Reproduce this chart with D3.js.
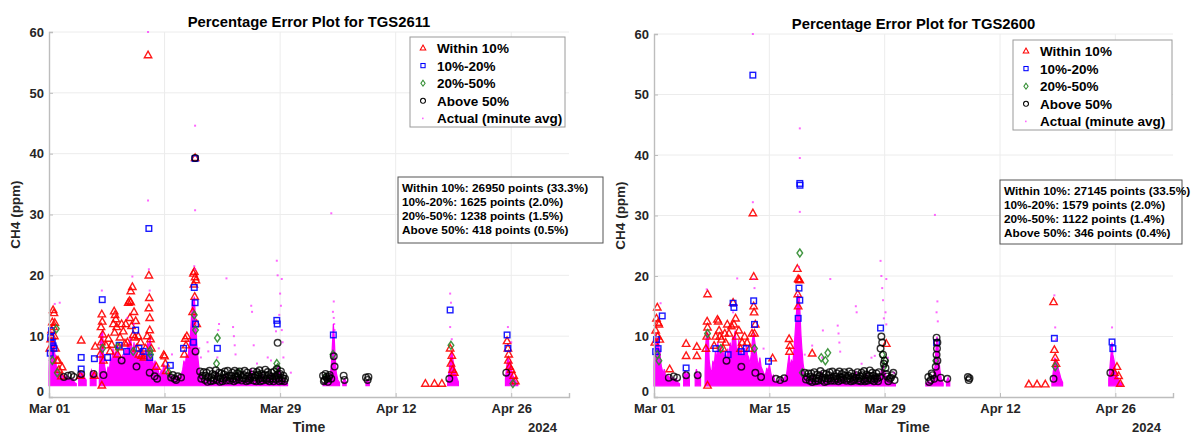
<!DOCTYPE html>
<html>
<head>
<meta charset="utf-8">
<script src="https://cdn.jsdelivr.net/npm/d3@7/dist/d3.min.js"></script>
<style>
body { margin: 0; background: #fff; }
svg text { font-family: "Liberation Sans", Arial, Helvetica, sans-serif; font-weight: bold; }
</style>
</head>
<body>
<div id="chart"></div>
<script>
// x values are days since Mar 01 2024, y values are CH4 in ppm
var yTicks = [0, 10, 20, 30, 40, 50, 60];
var xTickDays = [0, 14, 28, 42, 56];
var legendLabels = ["Within 10%", "10%-20%", "20%-50%", "Above 50%", "Actual (minute avg)"];
var stats2611 = ["Within 10%: 26950 points (33.3%)", "10%-20%: 1625 points (2.0%)", "20%-50%: 1238 points (1.5%)", "Above 50%: 418 points (0.5%)"];
var stats2600 = ["Within 10%: 27145 points (33.5%)", "10%-20%: 1579 points (2.0%)", "20%-50%: 1122 points (1.4%)", "Above 50%: 346 points (0.4%)"];

// ---- TGS2611 ----
// top of the dense cloud of minute averages (null = no data)
var actualTop2611 = [[0,4],[0.08,9],[0.16,11],[0.24,8.5],[0.32,10.5],[0.4,9],[0.48,10],[0.56,7.5],[0.64,9.5],[0.72,6],[0.8,7],[0.9,4.5],[1.0,5],[1.1,3.6],[1.25,4.2],[1.4,3.3],[1.55,3.8],[1.7,3.1],[1.85,3.6],[2.0,3.0],[2.15,3.4],[2.3,2.8],[2.5,3.2],[2.7,2.6],[2.9,3.0],[3.1,2.4],[3.3,2.2],null,
  [3.6,3.4],[3.75,4.2],[3.9,3.5],[4.1,4.0],[4.3,3.2],[4.5,2.8],null,
  [5.0,3.5],[5.15,4.4],[5.3,3.8],[5.5,4.2],[5.7,3.0],null,
  [6.1,4.0],[6.2,8],[6.3,10.5],[6.4,9],[6.5,11],[6.6,7],[6.75,5],[6.9,4],[7.0,3.5],[7.15,5],[7.3,4.2],[7.45,6.5],[7.6,5.5],[7.75,8],[7.9,6.5],[8.05,7.5],[8.2,6],[8.35,8.5],[8.5,5.5],[8.65,6.8],[8.8,5],[8.95,7],[9.1,6],[9.25,8],[9.4,7],[9.55,9],[9.7,8],[9.85,10],[10.0,8.5],[10.15,7],[10.3,9],[10.45,6],[10.6,7.5],[10.75,5.5],[10.9,7],[11.05,6],[11.2,8],[11.35,6.5],[11.5,7.5],[11.65,5],[11.8,6.5],[11.95,9],[12.1,8],[12.25,10],[12.4,7],[12.55,6],[12.7,5],[12.85,6],[13.0,4.5],[13.15,5],[13.3,4],[13.45,3.5],[13.6,4.5],[13.75,3.8],[13.9,5.5],[14.05,4.5],[14.2,3.5],[14.4,4],[14.6,3.2],[14.8,3.6],[15.0,3.0],[15.2,3.4],[15.4,3.0],[15.6,3.5],[15.8,3.1],[16.0,3.6],[16.2,4.5],[16.35,6],[16.5,5],[16.65,7],[16.8,5.5],[16.95,8],[17.1,9.5],[17.25,13],[17.4,16],[17.5,15],[17.6,16.5],[17.7,14],[17.8,12],[17.9,9],[18.0,7],[18.15,5],[18.3,4],[18.5,3.2],[18.7,2.8],[19.0,2.6],[19.3,3.5],[19.5,2.5],[20.0,2.8],[20.3,4],[20.5,2.5],[21.0,2.8],[21.4,3.6],[21.7,2.5],[22.0,3],[22.5,2.6],[23.0,3.2],[23.4,2.5],[24.0,3],[24.5,4.5],[24.8,2.6],[25.3,3],[25.8,4],[26.0,2.6],[26.5,3.2],[27.0,3.8],[27.3,2.7],[27.6,4.5],[27.8,5.5],[28.0,4],[28.3,3],[28.6,2.5],[28.9,2.2],null,
  [33.2,2.2],[33.5,2.5],[33.8,2.3],[34.0,2.8],[34.2,5],[34.35,9],[34.45,12],[34.55,10],[34.65,7],[34.8,4],[35.0,2.8],[35.2,2.4],null,
  [35.6,2.5],[35.8,3],[36.0,2.5],null,
  [38.4,2.4],[38.6,2.8],[38.8,2.4],null,
  [48.3,2.5],[48.5,4.5],[48.65,6.5],[48.8,7.5],[48.95,6],[49.1,5],[49.25,4],[49.4,3.2],[49.6,2.5],null,
  [55.3,3],[55.45,5],[55.6,6.5],[55.75,5.5],[55.9,6],[56.05,4.5],[56.2,3.5],[56.4,3],[56.6,2.5],[56.8,2.2]];
var actualDots2611 = [[12.0,60],[12.0,32.3],[17.7,44.6],[17.7,30.7],[34.2,30.2],[1.3,15.5],[0.7,15.3],[6.4,17.5],[10.1,19.8],[12.1,21],[17.6,21.5],[17.7,21],[21.5,19.5],[27.6,22.4],[27.7,20],[28.2,19.4],[28.0,17],[28.1,15],[27.9,13.5],[28.2,11],[28.3,9],[27.5,10.8],[24.5,15],[24.6,14],[22.3,11.5],[22.4,10],[22.5,8.5],[20.5,11],[20.6,12],[19.2,9],[19.3,7.5],[24.8,8.5],[26.5,6.5],[26.9,6],[34.5,15.7],[34.4,14],[34.5,13],[34.55,12],[48.6,17],[48.7,15.5],[48.6,11.5],[55.6,11.5],[56.0,9],[29.3,4],[9.5,13],[10.3,12],[13.3,8],[14.9,7],[12.2,17.5],[18.2,8],[18.4,6.5],[20.4,6.5],[22.6,7],[25.2,5.5],[28.4,6.5],[34.6,11],[48.8,9.5]];
var within2611 = [[12.0,56.2],[17.7,39.3],[12.1,20],[12.15,16.3],[12.1,14.6],[12.2,13],
  [0.5,14.3],[0.6,13.8],[0.4,12.3],[0.7,12.2],[0.3,11],[0.2,9.5],[0.8,8],[1.6,4.9],[1.5,3.4],[0.95,6],[0.1,8],[0.35,10],[0.55,11.5],[0.65,10],[1.1,6],[1.2,4.5],
  [3.9,9.3],[3.8,3.5],[5.6,8.3],[5.5,3.5],
  [6.4,13.6],[6.45,12.4],[6.3,11.5],[6.5,10.3],[6.35,9],[6.4,1.9],[6.2,7],[6.6,6],
  [7.9,14.1],[8.0,13.5],[8.1,12.8],[7.8,12],[8.2,11.5],[7.95,10.6],[8.5,8.2],[8.8,12],[9.0,10.8],[7.6,8.6],[8.3,7],[6.9,8.5],[7.2,9.6],[7.4,7.5],[8.6,9.8],[9.2,8.8],[9.3,12],
  [9.6,15.5],[9.75,15.8],[9.9,15.6],[10.1,18.1],[9.9,17.4],[10.0,11.7],[10.2,10.2],[10.4,9.8],[9.5,9],[10.6,8],[10.9,7],[11.2,6.8],[11.5,6.5],[9.8,13],[10.3,14],[10.5,12.5],[10.8,10],[11.1,9],[11.7,8],[11.9,10],
  [12.2,11],[12.3,9.5],[12.4,8],[13.0,5],[13.9,6.9],
  [14.0,6.7],[14.1,5.5],[14.2,4.3],
  [16.5,9.6],[16.6,8.5],[16.7,10],[16.4,7],
  [17.5,20.3],[17.6,20.6],[17.7,19.7],[17.8,19.2],[17.55,18.5],[17.65,16.5],[17.4,14],[17.9,12],
  [45.6,2.2],[46.7,2.2],[47.6,2.2],[48.6,8],[48.8,6.8],[48.7,5.5],[48.9,4.5],[49.1,4],
  [55.5,9.2],[55.6,8],[55.7,7],[55.65,6],[55.8,5],[56.0,4.5],[56.3,3.5],[56.5,2.6]];
var band1020_2611 = [[12.1,27.7],[17.7,39.2],[0.3,10.9],[0.2,9.8],[0.4,9],[0.5,8.4],[0.6,8],[0.15,7.2],[3.9,6.5],[3.9,4.6],[5.5,6.3],[6.45,16],[8.5,8.5],[9.4,7.5],[10.5,11],[10.9,8],[12.2,6.5],[14.7,5.2],[17.6,18],[17.7,15.5],[17.75,12],[17.5,9],[20.4,8],[27.6,12.6],[27.65,12.0],[16.3,8],[34.45,10.2],[48.6,14.3],[55.5,10.2],[55.6,8],[7.1,6.5],[11.4,7.5]];
var band2050_2611 = [[0.4,6],[1.0,4],[6.5,8],[8.3,8.2],[10.2,7.5],[12.3,7],[14.5,4],[17.6,13.5],[17.75,11],[20.4,9.7],[20.3,5.5],[23.0,4],[25.5,3.7],[27.6,5.5],[27.7,4.8],[27.5,3.5],[34.4,7],[48.7,8.5],[56.2,2.2],[33.5,3.2],[0.9,11.2],[12.25,7.6]];
var above50_2611 = [[17.7,39.3],[18.3,4.2],[18.6,3.5],[18.9,2.8],[19.1,4.0],[19.3,3.2],[19.6,2.6],[19.8,3.8],[20.0,3.0],[20.2,4.4],[20.5,3.3],[20.7,2.5],[20.9,3.9],[21.1,3.0],[21.3,4.2],[21.5,2.7],[21.8,3.5],[22.0,3.1],[22.2,4.0],[22.4,2.6],[22.6,3.4],[22.8,3.9],[23.0,2.9],[23.2,3.6],[23.5,3.1],[23.7,4.3],[23.9,2.6],[24.1,3.4],[24.3,3.0],[24.6,3.7],[24.8,2.7],[25.0,3.5],[25.2,4.1],[25.4,3.0],[25.6,2.6],[25.8,3.8],[26.0,3.2],[26.2,4.5],[26.4,2.8],[26.6,3.6],[26.8,3.0],[27.0,4.0],[27.2,2.6],[27.4,3.4],[27.6,4.6],[27.7,8.9],[27.8,3.1],[28.0,3.8],[28.2,2.7],[28.4,3.5],[28.6,3.0],
  [18.45,3.0],[18.75,4.1],[19.0,3.5],[19.2,2.5],[19.45,4.3],[19.7,3.2],[19.9,2.7],[20.1,3.6],[20.35,2.8],[20.6,4.0],[20.8,3.1],[21.0,2.6],[21.2,3.7],[21.4,3.2],[21.65,4.3],[21.9,2.7],[22.1,3.5],[22.3,3.0],[22.5,4.3],[22.7,2.8],[22.9,3.3],[23.1,4.2],[23.35,2.7],[23.6,3.6],[23.8,3.0],[24.0,4.0],[24.2,2.7],[24.45,3.3],[24.7,4.2],[24.9,3.2],[25.1,2.6],[25.3,3.7],[25.5,4.4],[25.7,3.1],[25.9,2.7],[26.1,3.6],[26.3,3.0],[26.5,4.1],[26.7,2.6],[26.9,3.4],[27.1,3.0],[27.3,4.2],[27.5,2.9],[27.75,3.7],[27.9,2.6],[28.1,4.2],[28.3,3.1],[28.5,2.6],
  [14.8,3.2],[15.2,3.0],[15.6,3.4],[16.0,3.2],[15.0,3.6],[15.4,2.8],[12.8,3.4],[13.1,3.0],[8.8,6],[10.6,5],[12.2,4],[6.6,3.6],[1.8,3.3],[2.3,3.5],[2.7,3.6],[3.0,3.3],[3.9,3.8],[5.4,3.8],
  [33.2,3.5],[33.4,2.8],[33.6,3.3],[33.8,2.5],[34.0,3.6],[34.2,3.0],[33.3,2.6],[33.5,3.8],[33.7,3.0],[33.9,3.3],[34.5,6.7],[34.6,5],[35.7,3.5],[35.8,2.8],[38.4,3.2],[38.6,2.8],[38.7,3.3],[17.75,7.5],[48.5,3],[55.4,4]];

// ---- TGS2600 ----
var actualTop2600 = [[0,5],[0.08,9],[0.16,10.5],[0.24,8],[0.32,10],[0.4,9.5],[0.48,8],[0.56,10],[0.64,7],[0.72,8],[0.8,6],[0.9,5],[1.0,4.5],[1.1,3.8],[1.25,4.6],[1.4,3.5],[1.55,3.2],[1.7,3.6],[1.85,3.0],[2.0,3.4],[2.15,2.8],[2.3,3.2],[2.5,2.7],[2.7,3.0],[2.9,2.4],[3.1,2.2],null,
  [3.6,3.2],[3.75,4.4],[3.9,3.6],[4.1,4.0],[4.3,3.0],null,
  [5.0,3.4],[5.15,4.6],[5.3,3.6],[5.5,4.0],[5.65,3.0],null,
  [6.2,4],[6.3,9],[6.4,11],[6.5,9.5],[6.6,10.5],[6.7,6],[6.85,4.5],[7.0,4],[7.15,6],[7.3,5],[7.45,7.5],[7.6,6],[7.75,9],[7.9,7],[8.05,8.5],[8.2,6.5],[8.35,8],[8.5,6],[8.65,7.5],[8.8,5.5],[8.95,8],[9.1,6.5],[9.25,9],[9.4,7.5],[9.55,10],[9.7,9],[9.85,11],[10.0,8],[10.15,7],[10.3,9.5],[10.45,6.5],[10.6,8],[10.75,6],[10.9,7.5],[11.05,6],[11.2,8.5],[11.35,7],[11.5,6.5],[11.65,5.5],[11.8,7],[11.95,9.5],[12.1,10.5],[12.25,9],[12.4,7.5],[12.55,6],[12.7,5],[12.85,6.5],[13.0,5],[13.15,4.5],[13.3,4],[13.5,3.5],[13.7,4.8],[13.85,4],[14.0,5.5],[14.15,4.2],[14.3,3.2],[14.5,3.6],[14.7,2.6],[14.9,2.4],[15.1,2.8],[15.3,2.4],[15.5,3.2],[15.7,2.6],[15.9,3.4],[16.1,3.8],[16.25,5.5],[16.4,7],[16.55,5],[16.7,6],[16.85,5.5],[17.0,8],[17.15,11],[17.3,14],[17.45,17],[17.55,15.5],[17.65,16.5],[17.75,13],[17.85,10],[17.95,8],[18.1,5.5],[18.25,4.2],[18.45,3.4],[18.7,2.8],[19.0,2.5],[19.3,3.6],[19.5,2.4],[20.0,2.8],[20.3,4.2],[20.5,2.4],[21.0,2.7],[21.4,3.4],[21.7,2.4],[22.0,3.0],[22.5,2.5],[23.0,3.3],[23.4,2.4],[24.0,2.9],[24.5,4.2],[24.8,2.5],[25.3,2.9],[25.8,3.8],[26.0,2.5],[26.5,3.0],[27.0,3.6],[27.3,2.6],[27.6,4.4],[27.8,5.2],[28.0,4.2],[28.3,3.0],[28.7,2.6],[29.0,2.3],[29.3,2.1],null,
  [33.0,2.2],[33.3,2.6],[33.6,2.3],[33.9,2.9],[34.1,5],[34.25,8.5],[34.35,10],[34.45,9],[34.55,7],[34.7,4.5],[34.9,2.8],[35.1,2.3],null,
  [35.5,2.6],[35.7,3.2],[35.9,2.5],null,
  [48.3,2.5],[48.5,4.5],[48.65,6.5],[48.8,6],[48.95,5.5],[49.1,4.5],[49.25,3.8],[49.4,3],[49.6,2.4],null,
  [55.2,3],[55.35,5],[55.5,7.5],[55.6,9],[55.7,7],[55.85,6],[56.0,4.5],[56.2,3.5],[56.4,2.8],[56.6,2.4],[56.8,2.1]];
var actualDots2600 = [[12.0,60],[12.0,32.2],[17.7,44.4],[17.7,39.5],[17.7,30.6],[34.1,30.1],[27.5,22.5],[28.2,19.5],[21.4,19.5],[24.5,15],[24.6,14],[34.4,15.8],[34.3,14],[34.45,12.5],[48.6,16.8],[48.7,11.5],[55.6,11.5],[12.1,19.5],[12.2,18],[0.8,15.5],[6.4,17.8],[10.1,19.6],[27.6,20],[27.7,18],[27.8,16],[28.1,14],[28.2,12],[27.9,13],[22.3,11.8],[22.4,10.5],[22.5,9],[20.5,11],[26.4,6.5],[26.8,6.8],[19.2,8.5],[9.6,14],[13.3,8],[17.6,21.5],[18.3,7],[29.1,4],[20.4,6.5],[22.6,7.5],[25.2,5.5],[28.4,6.5],[48.8,9.5]];
var within2600 = [[12.0,30.4],[0.4,14.8],[0.3,13],[0.5,12.3],[0.6,12],[0.2,11],[0.1,9],[0.45,10],[0.7,9.5],[1.9,4.6],[3.9,8.8],[3.9,6.8],[5.2,8.3],[5.2,6.8],
  [6.5,17],[6.45,12.5],[6.5,11.5],[6.4,10],[6.5,1.9],[6.3,8],[7.7,12.8],[7.8,12.5],[7.9,11],[8.0,10],[8.2,9.5],[8.4,8],[8.9,12],[8.6,10.5],[7.3,8.5],[7.5,10],[8.7,9],[9.1,10.5],
  [9.6,15.6],[9.7,12],[10.0,10],[10.5,8],[9.4,11.7],[11.0,10],[11.3,9],[9.9,13],[10.3,11],[10.7,9],[11.6,8],[11.9,10.5],
  [12.1,19.9],[12.1,15],[12.15,14],[12.2,10.5],[12.3,12],[14.4,6.4],
  [16.4,9.6],[16.5,8.5],[16.45,7.5],[17.4,21.2],[17.5,19.5],[17.6,19.4],[17.7,19.3],[17.5,15],[17.45,17],[19.2,7.2],[28.2,8.8],
  [45.5,2.1],[46.5,2.1],[47.5,2.1],[48.5,15.7],[48.6,7.8],[48.7,6.5],[48.8,5.5],[55.9,4],[56.2,5],[56.4,3.5],[56.6,2.2]];
var band1020_2600 = [[12.0,53.2],[17.7,35.3],[17.72,35],[1.0,13.4],[0.3,9.5],[0.5,8],[0.2,7.5],[3.9,4.8],[7.5,8],[9.6,15.5],[9.7,14.8],[12.1,15.9],[12.2,12],[13.9,5.9],[17.6,18],[17.7,16],[17.5,13],[27.5,11.4],[48.6,9.7],[55.6,9.1],[55.7,8],[9.0,7],[34.3,9],[10.6,7.5],[11.2,8]];
var band2050_2600 = [[17.7,23.8],[20.3,6.5],[21.1,7.3],[20.8,6],[27.7,7],[27.9,5],[28.1,6],[6.5,10.5],[8.1,8],[12.2,8],[34.2,6],[48.7,5],[18.0,4],[0.4,7],[0.6,6]];
var above50_2600 = [[18.3,4.0],[18.6,3.3],[18.9,2.7],[19.1,3.9],[19.3,3.1],[19.6,2.6],[19.8,3.7],[20.0,3.0],[20.2,4.3],[20.5,3.2],[20.7,2.5],[20.9,3.8],[21.1,3.0],[21.3,4.1],[21.5,2.7],[21.8,3.4],[22.0,3.0],[22.2,3.9],[22.4,2.6],[22.6,3.3],[22.8,3.8],[23.0,2.9],[23.2,3.5],[23.5,3.0],[23.7,4.2],[23.9,2.6],[24.1,3.3],[24.3,2.9],[24.6,3.6],[24.8,2.7],[25.0,3.4],[25.2,4.0],[25.4,2.9],[25.6,2.6],[25.8,3.7],[26.0,3.1],[26.2,4.4],[26.4,2.8],[26.6,3.5],[26.8,3.0],[27.0,3.9],[27.2,2.6],[27.4,3.3],[27.5,8],[27.6,10],[27.7,9],[27.8,7],[27.9,5.5],[28.0,6],[28.1,4.8],[28.3,3.4],[28.6,3.0],[28.9,3.6],[29.2,2.8],
  [18.45,2.9],[18.75,3.9],[19.0,3.4],[19.2,2.5],[19.45,4.1],[19.7,3.1],[19.9,2.7],[20.1,3.5],[20.35,2.8],[20.6,3.9],[20.8,3.1],[21.0,2.6],[21.2,3.6],[21.4,3.1],[21.65,4.2],[21.9,2.7],[22.1,3.4],[22.3,3.0],[22.5,4.2],[22.7,2.8],[22.9,3.2],[23.1,4.1],[23.35,2.7],[23.6,3.5],[23.8,3.0],[24.0,3.9],[24.2,2.7],[24.45,3.2],[24.7,4.1],[24.9,3.1],[25.1,2.6],[25.3,3.6],[25.5,4.3],[25.7,3.0],[25.9,2.7],[26.1,3.5],[26.3,3.0],[26.5,4.0],[26.7,2.6],[26.9,3.3],[27.1,3.0],[27.3,4.1],[28.2,3.8],[28.45,2.6],[28.75,3.2],[29.05,4.0],
  [14.8,3.0],[15.3,2.8],[15.8,3.1],[13.0,3.3],[8.8,6],[10.6,5],[12.3,4],[1.8,3.2],[2.4,3.4],[2.8,3.2],[3.9,3.6],[5.3,3.6],
  [33.3,3.3],[33.6,2.8],[33.8,3.6],[34.0,3.0],[33.4,2.5],[33.7,3.9],[34.3,9.8],[34.4,9],[34.35,8],[34.3,7],[34.4,6],[34.2,5],[34.8,3.2],[35.6,3.0],[38.1,3.3],[38.2,2.8],[38.3,3.1],[48.5,3],[55.4,4]];

var W = 1194, H = 435, base = 1.85, start = Date.UTC(2024, 2, 1);
var colors = ["#ff0000", "#0000ff", "#2e8b2e", "#000000", "#ff00ff"];

var panels = [
  {title: "Percentage Error Plot for TGS2611", l: 49, r: 569, t: 32, b: 397, ylab: 20, leg: [410, 37, 155, 90], box: [398, 177, 205, 66], stats: stats2611,
   top: actualTop2611, dots: actualDots2611, series: [within2611, band1020_2611, band2050_2611, above50_2611]},
  {title: "Percentage Error Plot for TGS2600", l: 654, r: 1173, t: 34, b: 397, ylab: 625, leg: [1013, 40, 159, 90], box: [1000, 180, 182, 64], stats: stats2600,
   top: actualTop2600, dots: actualDots2600, series: [within2600, band1020_2600, band2050_2600, above50_2600]}
];

function toDate(d) { return new Date(start + d * 864e5); }

// marker shapes centred at 0,0
function marker(sel, k) {
  if (k == 0) sel.append("path").attr("d", "M0,-4L3.7,2.6L-3.7,2.6Z");
  else if (k == 1) sel.append("rect").attr("x", -2.8).attr("y", -2.8).attr("width", 5.6).attr("height", 5.6);
  else if (k == 2) sel.append("path").attr("d", "M0,-4L2.8,0L0,4L-2.8,0Z");
  else sel.append("circle").attr("r", 3.3);
  sel.attr("fill", "none").attr("stroke", colors[k]).attr("stroke-width", 1.4);
}

var svg = d3.select("#chart").append("svg").attr("width", W).attr("height", H).style("background", "#fff");

panels.forEach(function(p) {
  var x = d3.scaleUtc().domain([toDate(0), toDate(63)]).range([p.l, p.r]);
  var y = d3.scaleLinear().domain([0, 60]).range([p.b, p.t]);
  var g = svg.append("g");

  // grid
  g.selectAll(".gy").data(yTicks.slice(1)).enter().append("line")
    .attr("x1", p.l).attr("x2", p.r).attr("y1", y).attr("y2", y)
    .attr("stroke", "#ececec").attr("stroke-width", 1);
  g.selectAll(".gx").data(xTickDays.slice(1)).enter().append("line")
    .attr("x1", function(d) { return x(toDate(d)); }).attr("x2", function(d) { return x(toDate(d)); })
    .attr("y1", p.t).attr("y2", p.b)
    .attr("stroke", "#ececec").attr("stroke-width", 1);

  // dense minute-average cloud
  var area = d3.area().defined(function(d) { return d != null; })
    .x(function(d) { return x(toDate(d[0])); })
    .y0(y(base))
    .y1(function(d) { return y(d[1]); });
  g.append("path").attr("d", area(p.top)).attr("fill", "#ff00ff").attr("stroke", "#ff00ff").attr("stroke-width", 1.2);

  // error class markers
  p.series.forEach(function(s, k) {
    g.append("g").selectAll("g").data(s).enter().append("g")
      .attr("transform", function(d) { return "translate(" + x(toDate(d[0])) + "," + y(d[1]) + ")"; })
      .attr("opacity", k == 3 ? 0.8 : 0.9)
      .each(function() { marker(d3.select(this), k); });
  });

  // isolated minute averages
  g.append("g").selectAll("rect").data(p.dots).enter().append("rect")
    .attr("x", function(d) { return x(toDate(d[0])) - 1; })
    .attr("y", function(d) { return y(d[1]) - 1; })
    .attr("width", 2).attr("height", 2)
    .attr("fill", "#ff00ff").attr("opacity", 0.6);

  // axes
  var xAxis = d3.axisBottom(x).tickValues(xTickDays.map(toDate)).tickFormat(d3.utcFormat("%b %d")).tickSize(-4).tickPadding(7);
  var yAxis = d3.axisLeft(y).tickValues(yTicks).tickSize(-4).tickPadding(5);
  var ax = g.append("g").attr("transform", "translate(0," + p.b + ")").call(xAxis);
  var ay = g.append("g").attr("transform", "translate(" + p.l + ",0)").call(yAxis);
  [ax, ay].forEach(function(a) {
    a.select(".domain").attr("stroke", "#bdbdbd").attr("stroke-width", 1.4);
    a.selectAll(".tick line").attr("stroke", "#bdbdbd");
    a.selectAll("text").attr("fill", "#262626").style("font-size", "13px").style("font-weight", "bold");
  });
  ay.selectAll(".tick text").filter(function(d) { return d === 0; }).attr("dy", "-2px");

  // titles and labels
  g.append("text").attr("x", (p.l + p.r) / 2).attr("y", p.t - 5).attr("text-anchor", "middle")
    .style("font-size", "14.8px").attr("fill", "#000").text(p.title);
  g.append("text").attr("transform", "translate(" + p.ylab + "," + (p.t + p.b) / 2 + ") rotate(-90)")
    .attr("text-anchor", "middle").style("font-size", "13.5px").attr("fill", "#262626").text("CH4 (ppm)");
  g.append("text").attr("x", (p.l + p.r) / 2).attr("y", 432).attr("text-anchor", "middle")
    .style("font-size", "14px").attr("fill", "#262626").text("Time");
  g.append("text").attr("x", p.r - 12).attr("y", 432).attr("text-anchor", "end")
    .style("font-size", "13px").attr("fill", "#262626").text("2024");

  // legend
  var lg = g.append("g").attr("transform", "translate(" + p.leg[0] + "," + p.leg[1] + ")");
  lg.append("rect").attr("width", p.leg[2]).attr("height", p.leg[3]).attr("fill", "#fff").attr("stroke", "#9a9a9a");
  legendLabels.forEach(function(lab, k) {
    var ly = 11 + k * 17.6;
    if (k < 4) {
      var m = lg.append("g");
      marker(m, k);
      m.attr("transform", "translate(13," + ly + ") scale(0.75)");
    } else {
      lg.append("rect").attr("x", 12).attr("y", ly - 0.8).attr("width", 1.6).attr("height", 1.6).attr("fill", "#ff00ff").attr("opacity", 0.6);
    }
    lg.append("text").attr("x", 27).attr("y", ly + 5).style("font-size", "13.5px").attr("fill", "#000").text(lab);
  });

  // stats box
  var sb = g.append("g").attr("transform", "translate(" + p.box[0] + "," + p.box[1] + ")");
  sb.append("rect").attr("width", p.box[2]).attr("height", p.box[3]).attr("fill", "#fff").attr("stroke", "#555");
  sb.selectAll("text").data(p.stats).enter().append("text")
    .attr("x", 4).attr("y", function(d, i) { return 15 + i * 14; })
    .style("font-size", "11.8px").attr("fill", "#000").text(function(d) { return d; });
});
</script>
</body>
</html>
